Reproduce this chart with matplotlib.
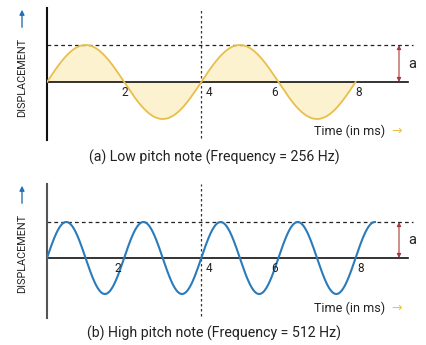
import numpy as np
import matplotlib
matplotlib.use("Agg")
import matplotlib.pyplot as plt

plt.rcParams['font.family'] = ['Roboto', 'DejaVu Sans']

# chart data
frequencies = [256, 512]          # Hz
cycles_drawn = [2.0, 4.25]        # how many periods each wave shows
amplitude = 1.0
tick_labels = ["2", "4", "6", "8"]
tick_pos_a = [1.97, 4.1, 5.77, 7.9]    # ms, where labels sit in panel (a)
tick_pos_b = [1.8, 4.1, 5.75, 7.95]    # ms, panel (b)
captions = ["(a) Low pitch note (Frequency = 256 Hz)",
            "(b) High pitch note (Frequency = 512 Hz)"]
wave_colors = ["#e8bf4c", "#2b7bba"]
fill_color = "#fdf2cf"

W, H = 426, 345
fig = plt.figure(figsize=(W / 100, H / 100), dpi=100)

def fx(px):
    return px / W

def fy(py):
    return 1 - py / H

px_per_ms = 39.5
x0 = 47

# panel layout in pixels: (top, bottom, zero line, amplitude px)
panels = [(8, 140, 82, 37), (184, 318, 258, 36)]
ticks = [tick_pos_a, tick_pos_b]
axis_colors = ["#111111", "#555555"]

for i, (top, bot, zero, amp_px) in enumerate(panels):
    ax = fig.add_axes([fx(x0), fy(bot), (420 - x0) / W, (bot - top) / H])
    ax.set_xlim(0, (420 - x0) / px_per_ms)
    ax.set_ylim(-(bot - zero) / amp_px, (zero - top) / amp_px)
    for s in ["top", "right", "bottom"]:
        ax.spines[s].set_visible(False)
    ax.spines["left"].set_color(axis_colors[i])
    ax.spines["left"].set_linewidth(1.5)
    ax.set_xticks([])
    ax.set_yticks([])
    ax.patch.set_alpha(0)

    period_ms = 1000.0 / frequencies[i]
    t = np.linspace(0, cycles_drawn[i] * period_ms, 600)
    y = amplitude * np.sin(2 * np.pi * t / period_ms)

    if i == 0:
        ax.fill_between(t, 0, y, color=fill_color, lw=0, zorder=1)
    ax.plot(t, y, color=wave_colors[i], lw=1.3 if i == 0 else 1.5, zorder=3)

    # zero line
    ax.plot([0, (408 - x0) / px_per_ms], [0, 0], color="#111111", lw=1.2, zorder=2)
    # amplitude dashed line
    ax.plot([0, (413 - x0) / px_per_ms], [amplitude, amplitude], color="#222222",
            lw=0.9, ls=(0, (3, 2.5)), zorder=2)
    # vertical dotted line at one period of the low note
    lo, hi = ax.get_ylim()
    ax.plot([1000.0 / frequencies[0]] * 2, [lo + 0.05, hi], color="#333333",
            lw=0.9, ls=(0, (2, 2)), zorder=2)

    # amplitude arrow
    xa = (399 - x0) / px_per_ms
    ax.annotate("", xy=(xa, amplitude), xytext=(xa, 0),
                arrowprops=dict(arrowstyle="<|-|>", color="#a83a3c", lw=0.8,
                                mutation_scale=6, shrinkA=0, shrinkB=0))
    ax.text((408 - x0) / px_per_ms, amplitude / 2, "a", fontsize=10.5,
            color="#222222", ha="left", va="center")

    for p, lab in zip(ticks[i], tick_labels):
        ax.text(p, -0.12, lab, fontsize=8.5, color="#222222",
                ha="center", va="top")

    # time label
    ty = 131 if i == 0 else 308
    fig.text(fx(350), fy(ty), "Time (in ms)", fontsize=9, color="#222222",
             ha="center", va="center")
    fig.text(fx(397), fy(ty), "\u2192", fontsize=9, color="#f0c23a",
             ha="center", va="center", family="DejaVu Sans")

    # caption
    cy = 157 if i == 0 else 333
    fig.text(fx(214), fy(cy), captions[i], fontsize=10.2, color="#222222",
             ha="center", va="center")

    # displacement label with arrow
    dy = 77 if i == 0 else 253
    fig.text(fx(22), fy(dy), "DISPLACEMENT", fontsize=7.8, rotation=90,
             color="#222222", ha="center", va="center")
    ay0, ay1 = (30, 7) if i == 0 else (206, 183)
    fig.add_artist(matplotlib.patches.FancyArrowPatch(
        (fx(22), fy(ay0)), (fx(22), fy(ay1)), transform=fig.transFigure,
        arrowstyle="-|>", mutation_scale=7, color="#2273b5", lw=1.0))

fig.savefig("out.png", dpi=100)
